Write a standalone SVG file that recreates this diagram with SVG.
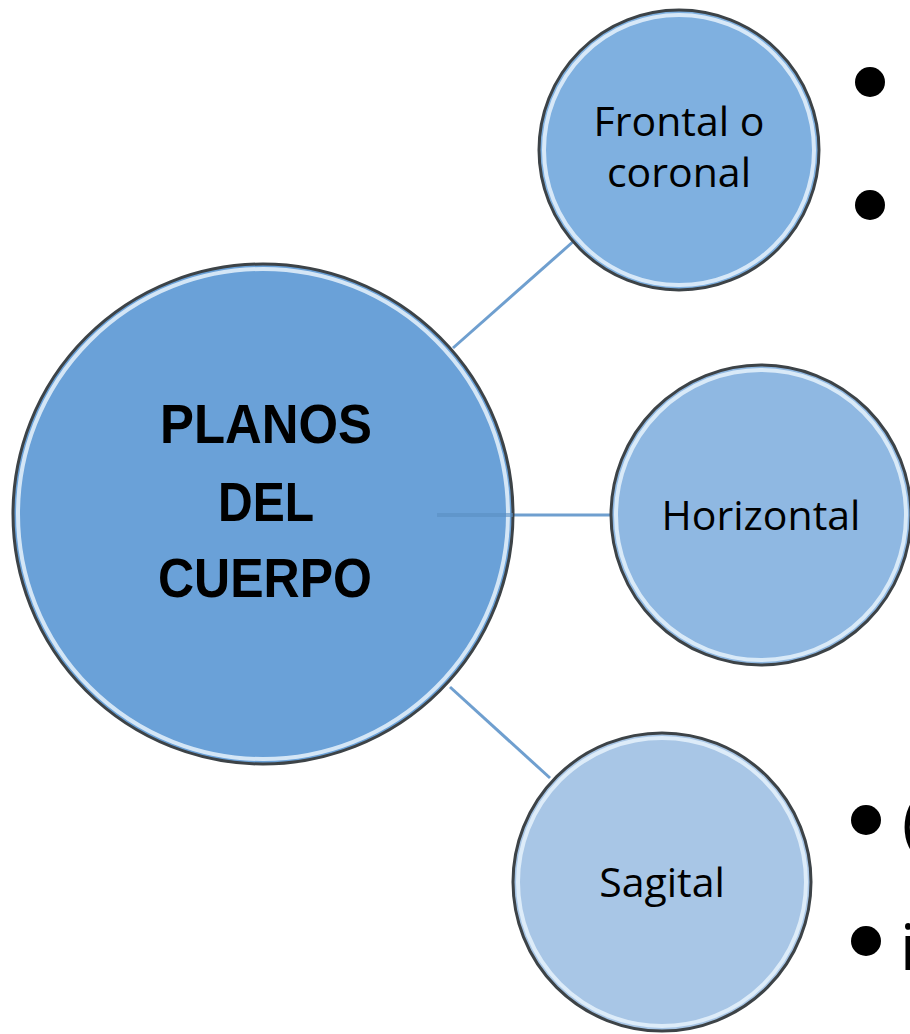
<svg xmlns="http://www.w3.org/2000/svg" width="910" height="1034" viewBox="0 0 910 1034">
<style>
.ring{stroke:#3d4347;stroke-width:3}
.hl{fill:none;stroke:#e6f2fb;stroke-width:4;opacity:0.85}
.lbl{font-family:"Open Sans","Liberation Sans",sans-serif;font-size:41px;fill:#000;text-anchor:middle}
.main{font-family:"Liberation Sans","Open Sans",sans-serif;font-weight:bold;font-size:55px;fill:#000;text-anchor:middle}
.conn{stroke:#6f9fcf;stroke-width:3;fill:none}
.bul{fill:#000}
.big{font-family:"Open Sans","Liberation Sans",sans-serif;font-size:64px;fill:#000}
</style>
<rect width="910" height="1034" fill="#fff"/>
<g id="connectors">
<line class="conn" x1="453" y1="348" x2="575" y2="240"/>
<line class="conn" x1="513" y1="515" x2="611" y2="515"/>
<line class="conn" x1="450" y1="687" x2="550" y2="778"/>
</g>
<g id="node-main">
<circle class="ring" cx="263" cy="514" r="250" fill="#6aa1d8"/>
<circle class="hl" cx="263" cy="514" r="245"/>
<line x1="437" y1="515" x2="513" y2="515" stroke="#5a8fc4" stroke-width="4" opacity="0.6"/>
<text class="main" x="266" y="443" textLength="212" lengthAdjust="spacingAndGlyphs">PLANOS</text>
<text class="main" x="266" y="521" textLength="96" lengthAdjust="spacingAndGlyphs">DEL</text>
<text class="main" x="265" y="597" textLength="214" lengthAdjust="spacingAndGlyphs">CUERPO</text>
</g>
<g id="node-frontal">
<circle class="ring" cx="679" cy="150" r="140" fill="#7fb0e0"/>
<circle class="hl" cx="679" cy="150" r="135"/>
<text class="lbl" x="679" y="136">Frontal o</text>
<text class="lbl" x="679" y="187">coronal</text>
</g>
<g id="node-horizontal">
<circle class="ring" cx="761" cy="515" r="150" fill="#8fb8e2"/>
<circle class="hl" cx="761" cy="515" r="145"/>
<text class="lbl" x="761" y="530">Horizontal</text>
</g>
<g id="node-sagital">
<circle class="ring" cx="662" cy="882" r="149" fill="#a8c6e6"/>
<circle class="hl" cx="662" cy="882" r="144"/>
<text class="lbl" x="662" y="897">Sagital</text>
</g>
<g id="bullets">
<circle class="bul" cx="870" cy="82" r="15"/>
<circle class="bul" cx="870" cy="205" r="15"/>
<circle class="bul" cx="866" cy="820" r="15"/>
<circle class="bul" cx="866" cy="941" r="15"/>
<text class="big" x="902" y="845">(</text>
<text class="big" x="900" y="970">i</text>
</g>
</svg>
